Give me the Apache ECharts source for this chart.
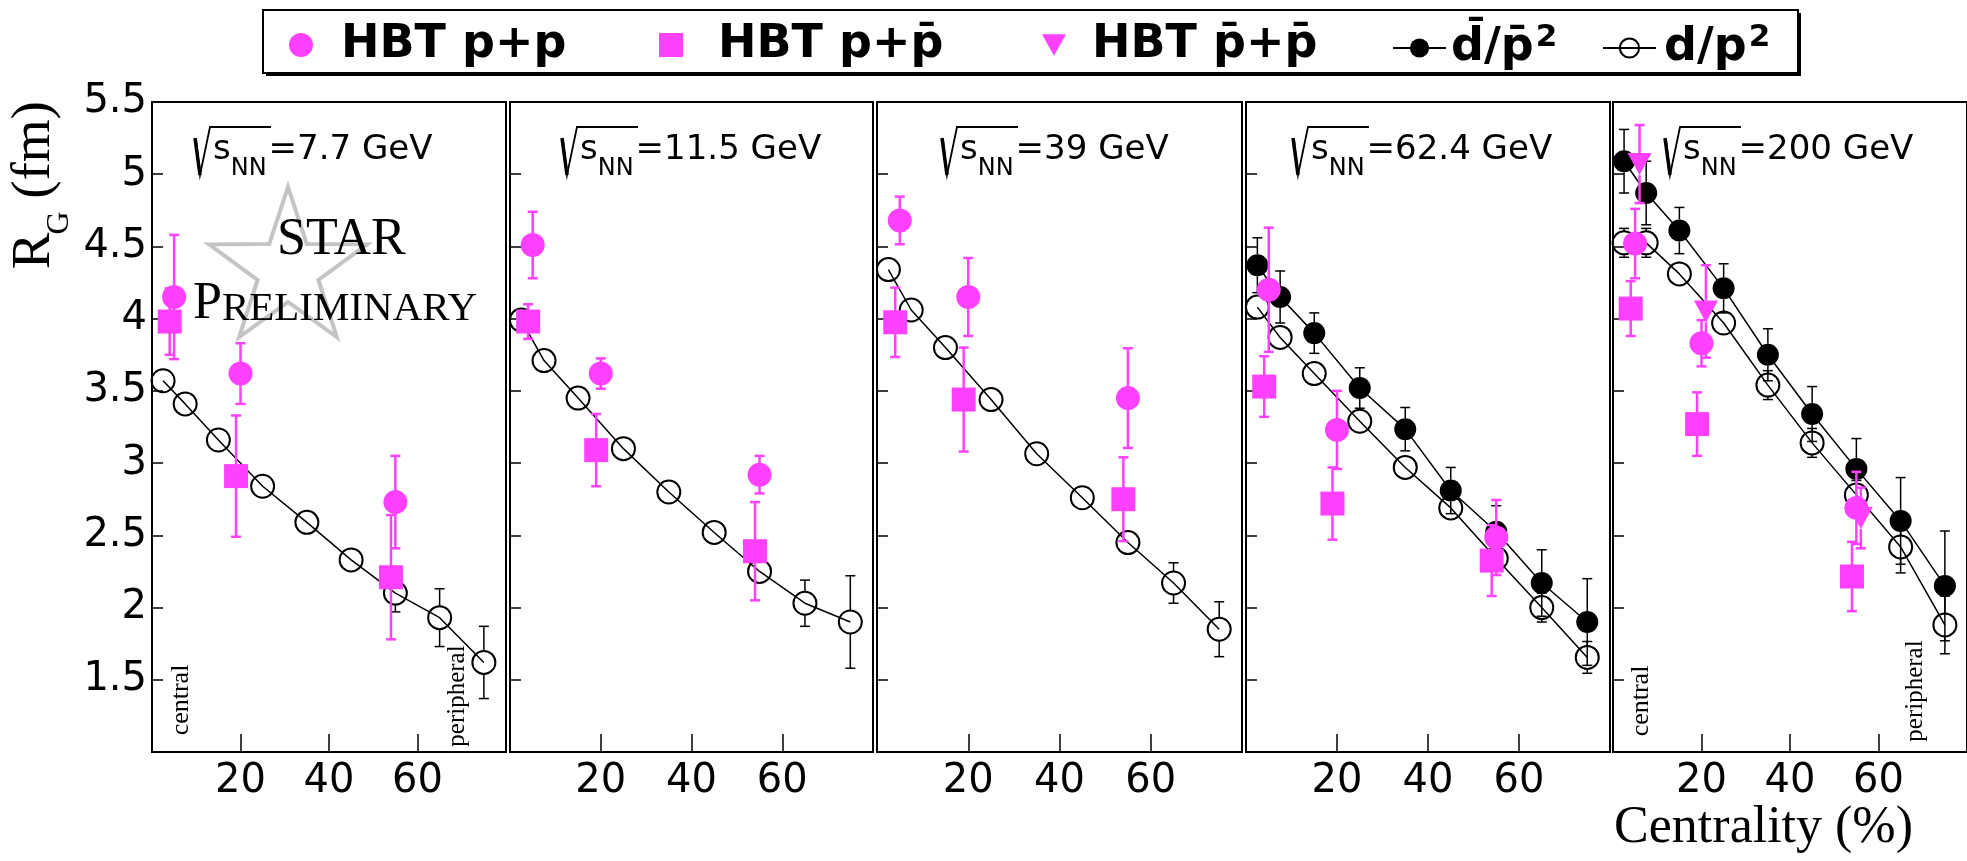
<!DOCTYPE html>
<html><head><meta charset="utf-8">
<script src="https://cdn.jsdelivr.net/npm/echarts@6/dist/echarts.min.js"></script>
<style>html,body{margin:0;padding:0;background:#fff}#c{width:1967px;height:861px}</style>
</head><body><div id="c"></div>
<script>
// ---------------- data ----------------
const energies = ['7.7', '11.5', '39', '62.4', '200'];
const centX = [2.5, 7.5, 15, 25, 35, 45, 55, 65, 75];
const xTickLabels = ['20', '40', '60'];
const yTickLabels = ['1.5', '2', '2.5', '3', '3.5', '4', '4.5', '5', '5.5'];

const dOverP2 = [
  [3.57, 3.41, 3.16, 2.84, 2.59, 2.33, 2.10, 1.93, 1.62],
  [3.99, 3.71, 3.45, 3.10, 2.80, 2.52, 2.25, 2.03, 1.90],
  [4.34, 4.06, 3.80, 3.44, 3.065, 2.76, 2.45, 2.17, 1.85],
  [4.08, 3.87, 3.62, 3.29, 2.97, 2.69, 2.34, 2.00, 1.655],
  [4.525, 4.525, 4.31, 3.97, 3.54, 3.14, 2.78, 2.42, 1.88]
];
const dOverP2Err = [
  [0.03, 0.03, 0.03, 0.03, 0.04, 0.05, 0.13, 0.20, 0.25],
  [0.03, 0.03, 0.03, 0.03, 0.04, 0.05, 0.08, 0.16, 0.32],
  [0.03, 0.03, 0.03, 0.03, 0.04, 0.05, 0.06, 0.14, 0.19],
  [0.05, 0.05, 0.05, 0.05, 0.05, 0.08, 0.06, 0.10, 0.11],
  [0.10, 0.10, 0.07, 0.09, 0.10, 0.10, 0.10, 0.18, 0.20]
];
const dbarOverPbar2 = [null, null, null,
  [4.37, 4.15, 3.90, 3.52, 3.235, 2.81, 2.525, 2.17, 1.90],
  [5.09, 4.87, 4.61, 4.21, 3.75, 3.34, 2.96, 2.60, 2.15]
];
const dbarOverPbar2Err = [null, null, null,
  [0.19, 0.18, 0.14, 0.14, 0.15, 0.16, 0.18, 0.23, 0.30],
  [0.22, 0.22, 0.16, 0.17, 0.18, 0.19, 0.21, 0.30, 0.38]
];

const hbtXpp = [5, 20, 55];
const hbtXppbar = [4, 19, 54];
const hbtXpbarpbar = [6, 21, 56];
const hbtPP = [[4.15, 3.62, 2.73], [4.51, 3.62, 2.92], [4.68, 4.15, 3.45], [4.20, 3.23, 2.485], [4.52, 3.83, 2.69]];
const hbtPPErr = [[0.43, 0.21, 0.32], [0.23, 0.105, 0.13], [0.165, 0.27, 0.345], [0.43, 0.27, 0.26], [0.24, 0.16, 0.25]];
const hbtPPbar = [[3.98, 2.91, 2.21], [3.98, 3.09, 2.39], [3.975, 3.44, 2.75], [3.53, 2.72, 2.325], [4.07, 3.27, 2.215]];
const hbtPPbarErr = [[0.23, 0.42, 0.43], [0.12, 0.25, 0.34], [0.24, 0.36, 0.29], [0.21, 0.25, 0.245], [0.19, 0.22, 0.24]];
const hbtPbarPbar = [null, null, null, null, [5.07, 4.05, 2.62]];
const hbtPbarPbarErr = [null, null, null, null, [0.27, 0.32, 0.21]];

const names = {
  pp: 'HBT p+p',
  ppbar: 'HBT p+p\u0304',
  pbarpbar: 'HBT p\u0304+p\u0304',
  dbar: 'd\u0304/p\u0304\u00b2',
  d: 'd/p\u00b2'
};

// ---------------- layout ----------------
const panelLeft = [152, 510, 877, 1246, 1613];
const panelWidth = [354, 363, 365, 364, 365];
const panelTop = 102, panelHeight = 650;
const labelX = [195, 562, 942, 1293, 1665];
const MAG = '#ff40ff';
const SANS = 'DejaVu Sans';
const SERIF = 'Liberation Serif';

function errBar(color, lw, markR) {
  return function (params, api) {
    const x = api.value(0), y = api.value(1), e = api.value(2);
    const c = api.coord([x, y]);
    const t = api.coord([x, y + e]);
    const b = api.coord([x, y - e]);
    const cap = 5;
    const ch = [];
    if (c[1] - t[1] > markR + 1) {
      ch.push({type: 'line', shape: {x1: c[0], y1: c[1] - markR, x2: t[0], y2: t[1]}, style: {stroke: color, lineWidth: lw}});
      ch.push({type: 'line', shape: {x1: t[0] - cap, y1: t[1], x2: t[0] + cap, y2: t[1]}, style: {stroke: color, lineWidth: lw}});
    }
    if (b[1] - c[1] > markR + 1) {
      ch.push({type: 'line', shape: {x1: c[0], y1: c[1] + markR, x2: b[0], y2: b[1]}, style: {stroke: color, lineWidth: lw}});
      ch.push({type: 'line', shape: {x1: b[0] - cap, y1: b[1], x2: b[0] + cap, y2: b[1]}, style: {stroke: color, lineWidth: lw}});
    }
    return {type: 'group', children: ch};
  };
}

const grids = [], xAxes = [], yAxes = [], series = [];
for (let i = 0; i < 5; i++) {
  grids.push({left: panelLeft[i], width: panelWidth[i], top: panelTop, height: panelHeight,
    show: true, borderColor: '#000', borderWidth: 2, backgroundColor: 'transparent'});
  xAxes.push({type: 'value', gridIndex: i, min: 0, max: 80, interval: 20,
    axisLine: {show: false}, splitLine: {show: false},
    axisTick: {show: true, inside: true, length: 18, lineStyle: {color: '#000', width: 1.5}},
    axisLabel: {showMinLabel: false, showMaxLabel: false, color: '#000', fontSize: 40, fontFamily: SANS, margin: 10,
      formatter: v => xTickLabels.includes(String(v)) ? String(v) : ''}});
  yAxes.push({type: 'value', gridIndex: i, min: 1, max: 5.5, interval: 0.5,
    axisLine: {show: false}, splitLine: {show: false},
    axisTick: {show: true, inside: true, length: 11, lineStyle: {color: '#000', width: 1.5}},
    axisLabel: {show: i === 0, showMinLabel: false, color: '#000', fontSize: 40, fontFamily: SANS, margin: 5,
      formatter: v => yTickLabels.includes(String(v)) ? String(v) : ''}});

  const ax = {xAxisIndex: i, yAxisIndex: i};
  series.push(Object.assign({type: 'custom', silent: true, z: 2, encode: {x: 0, y: 1},
    renderItem: errBar('#000', 1.5, 12),
    data: centX.map((x, j) => [x, dOverP2[i][j], dOverP2Err[i][j]])}, ax));
  series.push(Object.assign({type: 'line', name: names.d, z: 3,
    data: centX.map((x, j) => [x, dOverP2[i][j]]),
    symbol: 'circle', symbolSize: 23, showAllSymbol: true,
    itemStyle: {color: 'rgba(0,0,0,0)', borderColor: '#000', borderWidth: 2},
    lineStyle: {color: '#000', width: 1.5}}, ax));
  if (dbarOverPbar2[i]) {
    series.push(Object.assign({type: 'custom', silent: true, z: 2, encode: {x: 0, y: 1},
      renderItem: errBar('#000', 1.5, 11),
      data: centX.map((x, j) => [x, dbarOverPbar2[i][j], dbarOverPbar2Err[i][j]])}, ax));
    series.push(Object.assign({type: 'line', name: names.dbar, z: 3,
      data: centX.map((x, j) => [x, dbarOverPbar2[i][j]]),
      symbol: 'circle', symbolSize: 22, showAllSymbol: true,
      itemStyle: {color: '#000', borderColor: '#000', borderWidth: 0},
      lineStyle: {color: '#000', width: 1.5}}, ax));
  }
  const hbt = [
    [names.pp, hbtXpp, hbtPP[i], hbtPPErr[i], 'circle', 24],
    [names.ppbar, hbtXppbar, hbtPPbar[i], hbtPPbarErr[i], 'path://M0,0L20,0L20,20L0,20Z', 24],
    [names.pbarpbar, hbtXpbarpbar, hbtPbarPbar[i], hbtPbarPbarErr[i], 'path://M0,0L20,0L10,18Z', [24, 22]]
  ];
  hbt.forEach(h => {
    if (!h[2]) return;
    series.push(Object.assign({type: 'custom', silent: true, z: 4, encode: {x: 0, y: 1},
      renderItem: errBar(MAG, 2.5, 11),
      data: h[1].map((x, j) => [x, h[2][j], h[3][j]])}, ax));
    series.push(Object.assign({type: 'scatter', name: h[0], z: 5,
      data: h[1].map((x, j) => [x, h[2][j]]),
      symbol: h[4], symbolSize: h[5], itemStyle: {color: MAG, opacity: 1}}, ax));
  });
}

// legends
function legendText(padLeft) {
  return {fontFamily: SANS, fontWeight: 'bold', fontSize: 46, color: '#000', padding: [0, 0, 0, padLeft],
    rich: {
      a: {fontFamily: SANS, fontWeight: 'bold', fontSize: 46, lineHeight: 46, verticalAlign: 'top', color: '#000'},
      b: {fontFamily: SANS, fontWeight: 'bold', fontSize: 31, lineHeight: 31, verticalAlign: 'top', color: '#000', padding: [-3, 0, 0, 2]}
    }};
}
const legendBase = {top: 22, padding: 0, itemHeight: 24, selectedMode: false, symbolKeepAspect: true};
const legends = [
  Object.assign({}, legendBase, {left: 289, itemWidth: 24, data: [names.pp], textStyle: legendText(23)}),
  Object.assign({}, legendBase, {left: 659, itemWidth: 24, data: [names.ppbar], textStyle: legendText(30)}),
  Object.assign({}, legendBase, {left: 1042, itemWidth: 24, data: [names.pbarpbar], textStyle: legendText(21)}),
  Object.assign({}, legendBase, {left: 1392, itemWidth: 53, data: [names.dbar], textStyle: legendText(0),
    formatter: () => '{a|d\u0304/p\u0304}{b|2}'}),
  Object.assign({}, legendBase, {left: 1602, itemWidth: 53, data: [names.d], textStyle: legendText(3),
    formatter: () => '{a|d/p}{b|2}'})
];

// graphics
const graphics = [];
graphics.push({type: 'rect', shape: {x: 263, y: 10, width: 1535, height: 63}, style: {fill: 'none', stroke: '#000', lineWidth: 2}, z: 10});
graphics.push({type: 'polyline', shape: {points: [[1800, 13], [1800, 75], [266, 75]]}, style: {fill: 'none', stroke: '#000', lineWidth: 2}, z: 10});

for (let i = 0; i < 5; i++) {
  const x0 = labelX[i];
  graphics.push({type: 'polyline', shape: {points: [[x0 + 1, 139], [x0 + 5, 175], [x0 + 15, 127], [x0 + 76, 127]]},
    style: {fill: 'none', stroke: '#000', lineWidth: 1.8}, z: 10});
  graphics.push({type: 'line', shape: {x1: x0, y1: 138, x2: x0 + 5, y2: 175}, style: {stroke: '#000', lineWidth: 3.5}, z: 10});
  graphics.push({type: 'text', x: x0 + 18, y: 133, z: 10, style: {
    text: '{s|s}{n|NN}{s|=' + energies[i] + ' GeV}', verticalAlign: 'top', align: 'left',
    rich: {
      s: {fontSize: 34, fontFamily: SANS, lineHeight: 34, verticalAlign: 'top', fill: '#000'},
      n: {fontSize: 24, fontFamily: SANS, lineHeight: 24, verticalAlign: 'top', padding: [24, 2, 0, 0], fill: '#000'}
    }}});
}

// STAR preliminary watermark
const starPts = [];
for (let k = 0; k < 10; k++) {
  const a = (-90 + k * 36) * Math.PI / 180;
  const r = k % 2 ? 32 : 83;
  starPts.push([288 + r * Math.cos(a), 270 + r * Math.sin(a)]);
}
graphics.push({type: 'polygon', shape: {points: starPts}, style: {fill: 'none', stroke: '#c4c4c4', lineWidth: 4}, z: 1});
graphics.push({type: 'text', x: 277, y: 240, z: 10, style: {text: 'STAR', font: '52px "Liberation Serif"', fill: '#000', align: 'left', verticalAlign: 'middle'}});
graphics.push({type: 'text', x: 193, y: 330, z: 10, style: {
  text: '{p|P}{r|RELIMINARY}', align: 'left', verticalAlign: 'bottom',
  rich: {p: {fontSize: 52, fontFamily: SERIF, lineHeight: 52, verticalAlign: 'bottom', fill: '#000'},
         r: {fontSize: 41, fontFamily: SERIF, lineHeight: 41, verticalAlign: 'bottom', fill: '#000'}}}});

// central / peripheral
const sideTexts = [['central', 181, 700, 26], ['peripheral', 457, 696, 25], ['central', 1641, 701, 26], ['peripheral', 1915, 691, 25]];
sideTexts.forEach(s => graphics.push({type: 'text', x: s[1], y: s[2], rotation: Math.PI / 2, z: 10,
  style: {text: s[0], font: s[3] + 'px "Liberation Serif"', fill: '#000', align: 'center', verticalAlign: 'middle'}}));

// axis titles
graphics.push({type: 'text', x: 35, y: 251, rotation: Math.PI / 2, z: 10, style: {text: 'R', font: '55px "Liberation Serif"', fill: '#000', align: 'center', verticalAlign: 'middle'}});
graphics.push({type: 'text', x: 60, y: 223, rotation: Math.PI / 2, z: 10, style: {text: 'G', font: '32px "Liberation Serif"', fill: '#000', align: 'center', verticalAlign: 'middle'}});
graphics.push({type: 'text', x: 35, y: 150, rotation: Math.PI / 2, z: 10, style: {text: '(fm)', font: '55px "Liberation Serif"', fill: '#000', align: 'center', verticalAlign: 'middle'}});
graphics.push({type: 'text', x: 1913, y: 828, z: 10, style: {text: 'Centrality (%)', font: '52px "Liberation Serif"', fill: '#000', align: 'right', verticalAlign: 'middle'}});

const chart = echarts.init(document.getElementById('c'), null, {renderer: 'canvas'});
chart.setOption({
  animation: false,
  backgroundColor: '#fff',
  textStyle: {fontFamily: SANS},
  grid: grids, xAxis: xAxes, yAxis: yAxes,
  legend: legends,
  series: series,
  graphic: {elements: graphics}
});
</script></body></html>
